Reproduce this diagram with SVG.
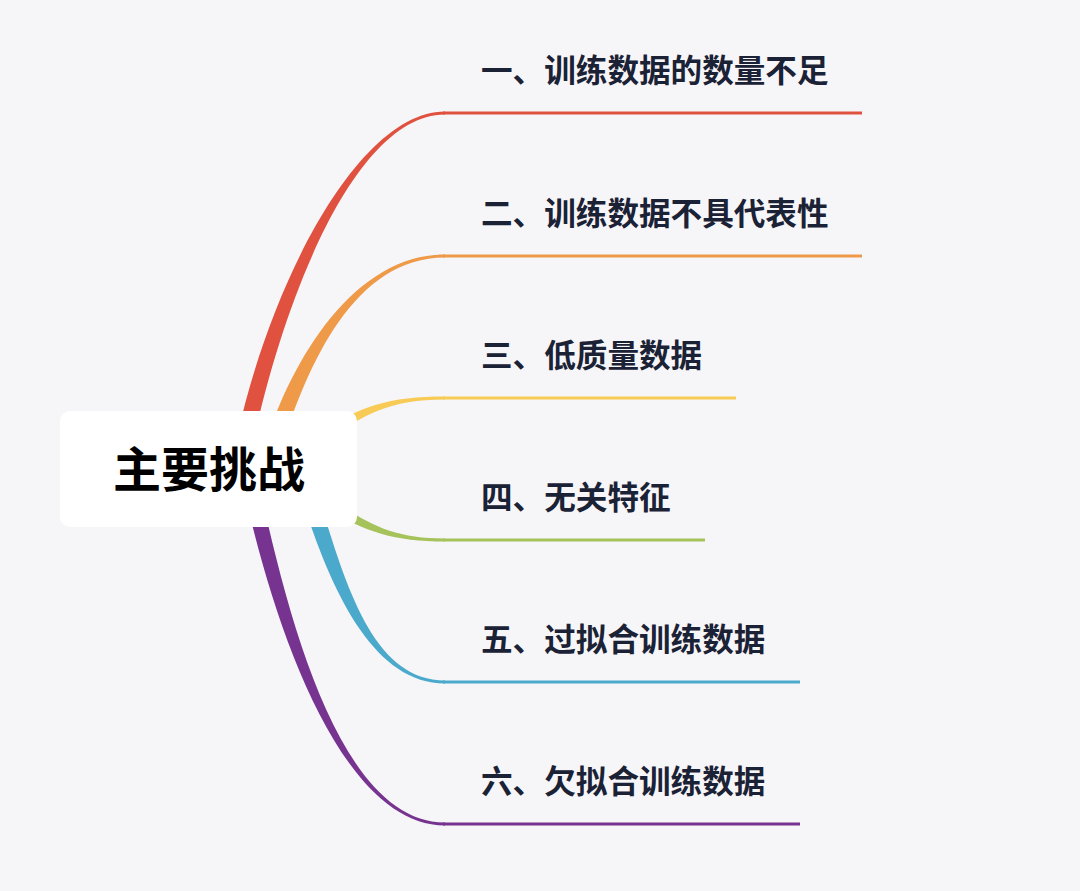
<svg xmlns="http://www.w3.org/2000/svg" width="1080" height="891" viewBox="0 0 1080 891">
<style>
.bg{fill:#F6F6F9}
.lbl{font-family:"Noto Sans CJK SC","Noto Sans",sans-serif;font-size:31.6px;font-weight:700;fill:#1B2235}
.line{fill:none;stroke-width:3}
.root{fill:#FFFFFF}
.rootText{font-family:"Noto Sans CJK SC","Noto Sans",sans-serif;font-size:48px;font-weight:700;fill:#000000}
</style>
<rect class="bg" x="0" y="0" width="1080" height="891"/>
<g id="connectors">
  <path fill="#E0523F" d="M236.7,438.3 C271.7,278.3 360,111.5 445,111.5 L445,114.5 C360,114.5 288.3,281.7 253.3,441.7 Z"/>
  <line class="line" stroke="#E0523F" x1="443" y1="113" x2="862" y2="113"/>
  <path fill="#EE9A48" d="M264,447.6 C292,357.6 355,254.5 445,254.5 L445,257.5 C355,257.5 308,362.4 280,452.4 Z"/>
  <line class="line" stroke="#EE9A48" x1="443" y1="256" x2="862" y2="256"/>
  <path fill="#F7CB55" d="M317,436 C357,406 390,396.5 445,396.5 L445,399.5 C390,399.5 363,414 323,444 Z"/>
  <line class="line" stroke="#F7CB55" x1="443" y1="398" x2="736" y2="398"/>
  <path fill="#A6C25A" d="M323,492 C363,522 390,538.5 445,538.5 L445,541.5 C390,541.5 357,530 317,500 Z"/>
  <line class="line" stroke="#A6C25A" x1="443" y1="540" x2="705" y2="540"/>
  <path fill="#4BA9CB" d="M313.1,477.6 C343.1,577.6 370,680.5 445,680.5 L445,683.5 C370,683.5 326.9,582.4 296.9,482.4 Z"/>
  <line class="line" stroke="#4BA9CB" x1="443" y1="682" x2="800" y2="682"/>
  <path fill="#76338F" d="M257.8,478.3 C287.8,618.3 340,822.5 445,822.5 L445,825.5 C340,825.5 272.2,621.7 242.2,481.7 Z"/>
  <line class="line" stroke="#76338F" x1="443" y1="824" x2="800" y2="824"/>
</g>
<g id="root">
  <rect class="root" x="60" y="411" width="297" height="116" rx="10"/>
  <text class="rootText" x="209" y="487" text-anchor="middle">主要挑战</text>
</g>
<g id="n1"><text class="lbl" x="481" y="82">一、训练数据的数量不足</text></g>
<g id="n2"><text class="lbl" x="481" y="225">二、训练数据不具代表性</text></g>
<g id="n3"><text class="lbl" x="481" y="367">三、低质量数据</text></g>
<g id="n4"><text class="lbl" x="481" y="509">四、无关特征</text></g>
<g id="n5"><text class="lbl" x="481" y="651">五、过拟合训练数据</text></g>
<g id="n6"><text class="lbl" x="481" y="793">六、欠拟合训练数据</text></g>
</svg>
